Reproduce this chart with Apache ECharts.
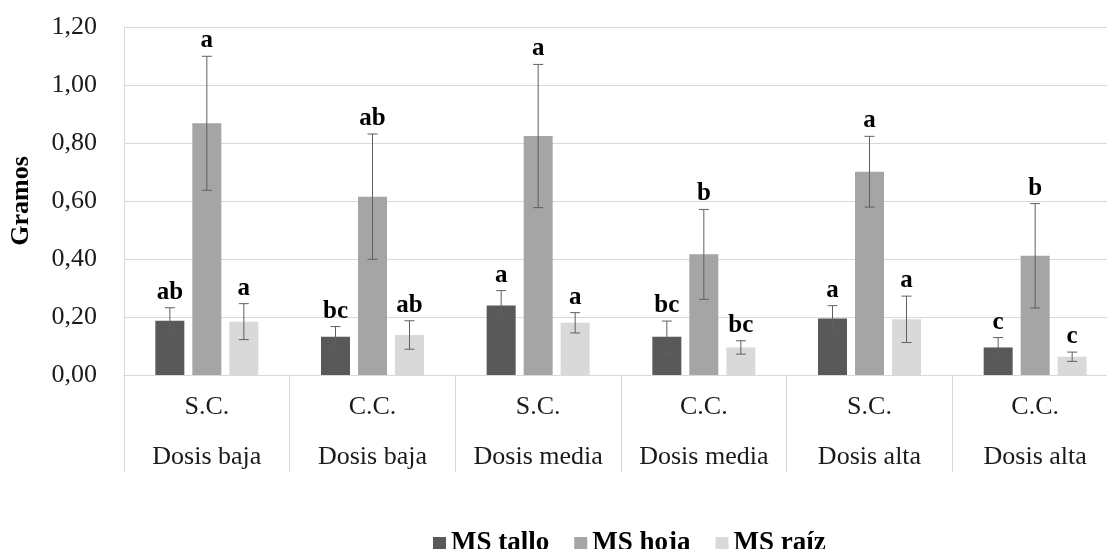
<!DOCTYPE html>
<html>
<head>
<meta charset="utf-8">
<script src="https://cdn.jsdelivr.net/npm/echarts@6/dist/echarts.min.js"></script>
<style>
  html, body { margin: 0; padding: 0; background: #fff; overflow: hidden; width: 1107px; height: 549px; }
  #chart { width: 1118px; height: 549px; }
</style>
</head>
<body>
<div id="chart"></div>
<script>
// ---- data ----
var categoriesTop = ['S.C.', 'C.C.', 'S.C.', 'C.C.', 'S.C.', 'C.C.'];
var categoriesBottom = ['Dosis baja', 'Dosis baja', 'Dosis media', 'Dosis media', 'Dosis alta', 'Dosis alta'];
var seriesNames = ['MS tallo', 'MS hoja', 'MS raíz'];

var tallo = [0.187, 0.132, 0.240, 0.132, 0.195, 0.095];
var talloErr = [0.045, 0.035, 0.051, 0.054, 0.044, 0.034];
var talloLetters = ['ab', 'bc', 'a', 'bc', 'a', 'c'];

var hoja = [0.868, 0.615, 0.824, 0.416, 0.701, 0.411];
var hojaErr = [0.231, 0.216, 0.247, 0.155, 0.122, 0.180];
var hojaLetters = ['a', 'ab', 'a', 'b', 'a', 'b'];

var raiz = [0.184, 0.138, 0.180, 0.095, 0.192, 0.063];
var raizErr = [0.062, 0.049, 0.035, 0.023, 0.080, 0.016];
var raizLetters = ['a', 'ab', 'a', 'bc', 'a', 'c'];

var yTicks = { min: 0, max: 1.2, interval: 0.2 };

// ---- styling ----
var colors = ['#595959', '#a5a5a5', '#d9d9d9'];
var BAR_W = 29, BAR_GAP = 8;
var SERIF = '"Liberation Serif", "Times New Roman", serif';

var values = [tallo, hoja, raiz];
var errs = [talloErr, hojaErr, raizErr];
var letters = [talloLetters, hojaLetters, raizLetters];

var categories = categoriesTop.map(function (t, i) { return t + '|' + categoriesBottom[i]; });

function errSeries(k) {
  var data = values[k].map(function (v, i) { return [i, v, errs[k][i], letters[k][i]]; });
  var offset = (k - 1) * (BAR_W + BAR_GAP);
  return {
    type: 'custom',
    name: 'err' + k,
    z: 10,
    silent: true,
    encode: { x: 0, y: 1 },
    data: data,
    renderItem: function (params, api) {
      var idx = api.value(0), v = api.value(1), e = api.value(2);
      var top = api.coord([idx, v + e]);
      var bot = api.coord([idx, v - e]);
      var x = top[0] + offset;
      var cap = 5;
      var ls = { stroke: '#5f5f5f', lineWidth: 1 };
      return {
        type: 'group',
        children: [
          { type: 'line', shape: { x1: x, y1: top[1], x2: x, y2: bot[1] }, style: ls },
          { type: 'line', shape: { x1: x - cap, y1: top[1], x2: x + cap, y2: top[1] }, style: ls },
          { type: 'line', shape: { x1: x - cap, y1: bot[1], x2: x + cap, y2: bot[1] }, style: ls },
          { type: 'text', style: { text: letters[k][idx], x: x, y: top[1] - 3, align: 'center', verticalAlign: 'bottom',
              font: 'bold 25px ' + SERIF, fill: '#000' } }
        ]
      };
    }
  };
}

var chart = echarts.init(document.getElementById('chart'), null, { renderer: 'canvas' });
var series = [];
for (var k = 0; k < 3; k++) {
  series.push({
    type: 'bar',
    name: seriesNames[k],
    data: values[k],
    barWidth: BAR_W,
    barGap: (BAR_GAP / BAR_W * 100).toFixed(1) + '%',
    itemStyle: { color: colors[k] },
    animation: false
  });
}
for (var k2 = 0; k2 < 3; k2++) series.push(errSeries(k2));

chart.setOption({
  animation: false,
  backgroundColor: '#fff',
  grid: { left: 122, right: 0, top: 27, bottom: 174 },
  legend: {
    data: seriesNames,
    left: 428,
    top: 525,
    icon: 'rect',
    itemWidth: 13,
    itemHeight: 13,
    itemGap: 25,
    textStyle: { fontFamily: SERIF, fontWeight: 'bold', fontSize: 27, color: '#000' }
  },
  xAxis: {
    type: 'category',
    data: categories,
    axisLine: { show: true, lineStyle: { color: '#d9d9d9', width: 1 } },
    axisTick: { show: true, length: 97, interval: 0, lineStyle: { color: '#d9d9d9', width: 1 } },
    axisLabel: {
      interval: 0,
      margin: 7,
      formatter: function (val) {
        var p = val.split('|');
        return '{a|' + p[0] + '}\n{b|' + p[1] + '}';
      },
      rich: {
        a: { fontFamily: SERIF, fontSize: 26, color: '#1a1a1a', lineHeight: 50 },
        b: { fontFamily: SERIF, fontSize: 26, color: '#1a1a1a', lineHeight: 50 }
      }
    }
  },
  yAxis: {
    type: 'value',
    min: yTicks.min,
    max: yTicks.max,
    interval: yTicks.interval,
    name: 'Gramos',
    nameLocation: 'middle',
    nameGap: 90,
    nameRotate: 90,
    nameTextStyle: { fontFamily: SERIF, fontWeight: 'bold', fontSize: 26, color: '#000' },
    axisLine: { show: true, lineStyle: { color: '#d9d9d9', width: 1 } },
    axisTick: { show: false },
    splitLine: { lineStyle: { color: '#d9d9d9', width: 1 } },
    axisLabel: {
      margin: 27,
      fontFamily: SERIF,
      fontSize: 26,
      color: '#1a1a1a',
      formatter: function (v) { return v.toFixed(2).replace('.', ','); }
    }
  },
  series: series
});
</script>
</body>
</html>
